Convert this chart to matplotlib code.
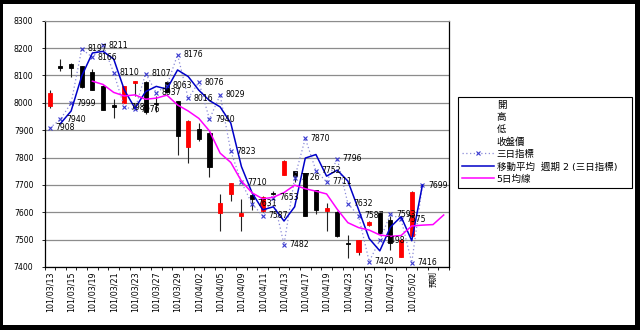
import matplotlib
matplotlib.use("Agg")
import matplotlib.pyplot as plt
from matplotlib.lines import Line2D
from matplotlib.patches import Rectangle
import numpy as np

plt.rcParams['font.family'] = ['DejaVu Sans', 'Noto Sans CJK TC']

# ── Data ──────────────────────────────────────────────────────────────────────
tick_labels = ['101/03/13', '101/03/15', '101/03/19', '101/03/21', '101/03/23',
               '101/03/27', '101/03/29', '101/04/02', '101/04/05', '101/04/09',
               '101/04/11', '101/04/13', '101/04/17', '101/04/19', '101/04/23',
               '101/04/25', '101/04/27', '101/05/02', '預測']
n_cat = 38

open_ = [7990, 8135, 8143, 8133, 8114, 8063, 7992, 8000, 8073, 8077,
         8000, 8077, 8005, 7838, 7905, 7890, 7598, 7668, 7588, 7662,
         7603, 7672, 7738, 7750, 7742, 7680, 7603, 7602, 7487, 7456,
         7553, 7597, 7570, 7438, 7512]
high = [8045, 8160, 8145, 8135, 8125, 8065, 8013, 8062, 8078, 8078,
        8025, 8080, 8008, 7937, 7925, 7892, 7668, 7708, 7650, 7665,
        7660, 7678, 7790, 7752, 7745, 7682, 7635, 7604, 7518, 7500,
        7567, 7600, 7585, 7500, 7677]
low = [7980, 8118, 8093, 8055, 8045, 7972, 7944, 7998, 8025, 7960,
       7965, 8038, 7810, 7780, 7862, 7730, 7530, 7640, 7530, 7610,
       7600, 7662, 7737, 7712, 7585, 7592, 7530, 7510, 7432, 7445,
       7550, 7522, 7462, 7436, 7510]
close = [8035, 8128, 8126, 8057, 8048, 7975, 7986, 8060, 8078, 7968,
         7995, 8040, 7877, 7935, 7866, 7767, 7635, 7706, 7597, 7650,
         7655, 7668, 7789, 7732, 7586, 7610, 7617, 7512, 7485, 7498,
         7565, 7525, 7487, 7498, 7675]

# 三日指標
tri = [7908, 7940, 7999, 8197, 8166, 8211, 8110, 7984, 7976, 8107,
       8037, 8063, 8176, 8016, 8076, 7940, 8029, 7823, 7710, 7631,
       7587, 7653, 7482, 7726, 7870, 7752, 7711, 7796, 7632, 7587,
       7420, 7498, 7593, 7575, 7416, 7699]

# 移動平均 週期 2 (三日指標), starts at category 1
ma2 = [7924, 7970, 8098, 8182, 8188, 8160, 8047, 7980, 8041, 8060,
       8050, 8120, 8096, 8046, 8008, 7985, 7926, 7767, 7671, 7609,
       7620, 7568, 7620, 7798, 7811, 7732, 7754, 7714, 7610, 7504,
       7459, 7546, 7584, 7496, 7699]

# 5日均線, starts at category 4
ma5 = [8079, 8067, 8038, 8025, 8029, 8013, 8017, 8028, 7992, 7970,
       7943, 7897, 7816, 7782, 7714, 7671, 7649, 7655, 7672, 7699,
       7686, 7677, 7667, 7611, 7562, 7544, 7535, 7517, 7512, 7515,
       7550, 7553, 7555, 7590]

# ── Figure ────────────────────────────────────────────────────────────────────
fig = plt.figure(figsize=(6.4, 3.3), dpi=100)
fig.patch.set_facecolor('black')
fig.add_artist(Rectangle((3 / 640, 5 / 330), 632 / 640, 321 / 330,
                         transform=fig.transFigure, facecolor='white',
                         edgecolor='none', zorder=0))

ax = fig.add_axes([44.5 / 640, 1 - 267 / 330, (449 - 44.5) / 640, (267 - 20.7) / 330])
ax.set_facecolor('white')
ax.set_xlim(-0.5, n_cat - 0.5)
ax.set_ylim(7400, 8300)
ax.set_yticks(np.arange(7400, 8301, 100))
ax.yaxis.grid(True, color='#8c8c8c', lw=0.9)
ax.set_axisbelow(True)
for side in ['left', 'bottom', 'right']:
    ax.spines[side].set_color('black')
    ax.spines[side].set_linewidth(0.9)
ax.spines['top'].set_color('#8c8c8c')

# candles
for i in range(len(open_)):
    up = close[i] >= open_[i]
    col = '#ff0000' if up else 'black'
    ax.vlines(i, low[i], high[i], color='#222222', lw=0.8, zorder=2)
    ax.bar(i, close[i] - open_[i], bottom=open_[i], width=0.38,
           color=col, edgecolor=col, lw=0.6, zorder=3)

# lines
x_tri = np.arange(len(tri))
ax.plot(x_tri, tri, ls=(0, (1, 2)), color='#8a8ad8', lw=0.9,
        marker='x', ms=3.5, mec='#3a3ad0', mew=0.8, zorder=4)
ax.plot(np.arange(1, 1 + len(ma2)), ma2, color='#0000c8', lw=1.1, zorder=5)
ax.plot(np.arange(4, 4 + len(ma5)), ma5, color='#ff00ff', lw=1.1, zorder=5)

for i, v in zip(x_tri, tri):
    ax.annotate(str(v), (i, v), xytext=(4, 0), textcoords='offset points',
                va='center', ha='left', fontsize=5.6, color='black', zorder=6)

# axes ticks
ax.set_xticks(np.arange(0, 2 * len(tick_labels), 2))
ax.set_xticklabels(tick_labels, rotation=90, fontsize=5.8, va='top')
ax.set_xticks(np.arange(-0.5, n_cat, 1), minor=True)
ax.tick_params(axis='x', which='major', length=0, pad=3)
ax.tick_params(axis='x', which='minor', length=2, width=0.6)
ax.tick_params(axis='y', length=2, width=0.6, labelsize=5.6, pad=6)

# legend
handles = [Line2D([], [], ls='none'), Line2D([], [], ls='none'),
           Line2D([], [], ls='none'), Line2D([], [], ls='none'),
           Line2D([], [], ls=(0, (1, 2)), color='#8a8ad8', lw=0.9,
                  marker='x', ms=3.5, mec='#3a3ad0', mew=0.8),
           Line2D([], [], color='#0000c8', lw=1.1),
           Line2D([], [], color='#ff00ff', lw=1.1)]
labels = ['開', '高', '低', '收盤價', '三日指標', '移動平均  週期 2 (三日指標)', '5日均線']
leg = fig.legend(handles, labels, loc='upper left',
                 bbox_to_anchor=(458 / 640, 1 - 190 / 330, 174 / 640, 93 / 330),
                 mode='expand', fontsize=6.8, frameon=True, fancybox=False,
                 edgecolor='black', framealpha=1, borderpad=0.4,
                 labelspacing=0.33, handlelength=3.4, handletextpad=0.3,
                 borderaxespad=0)
leg.get_frame().set_linewidth(0.8)

plt.savefig('out.png', dpi=100, facecolor=fig.get_facecolor())
plt.close(fig)
